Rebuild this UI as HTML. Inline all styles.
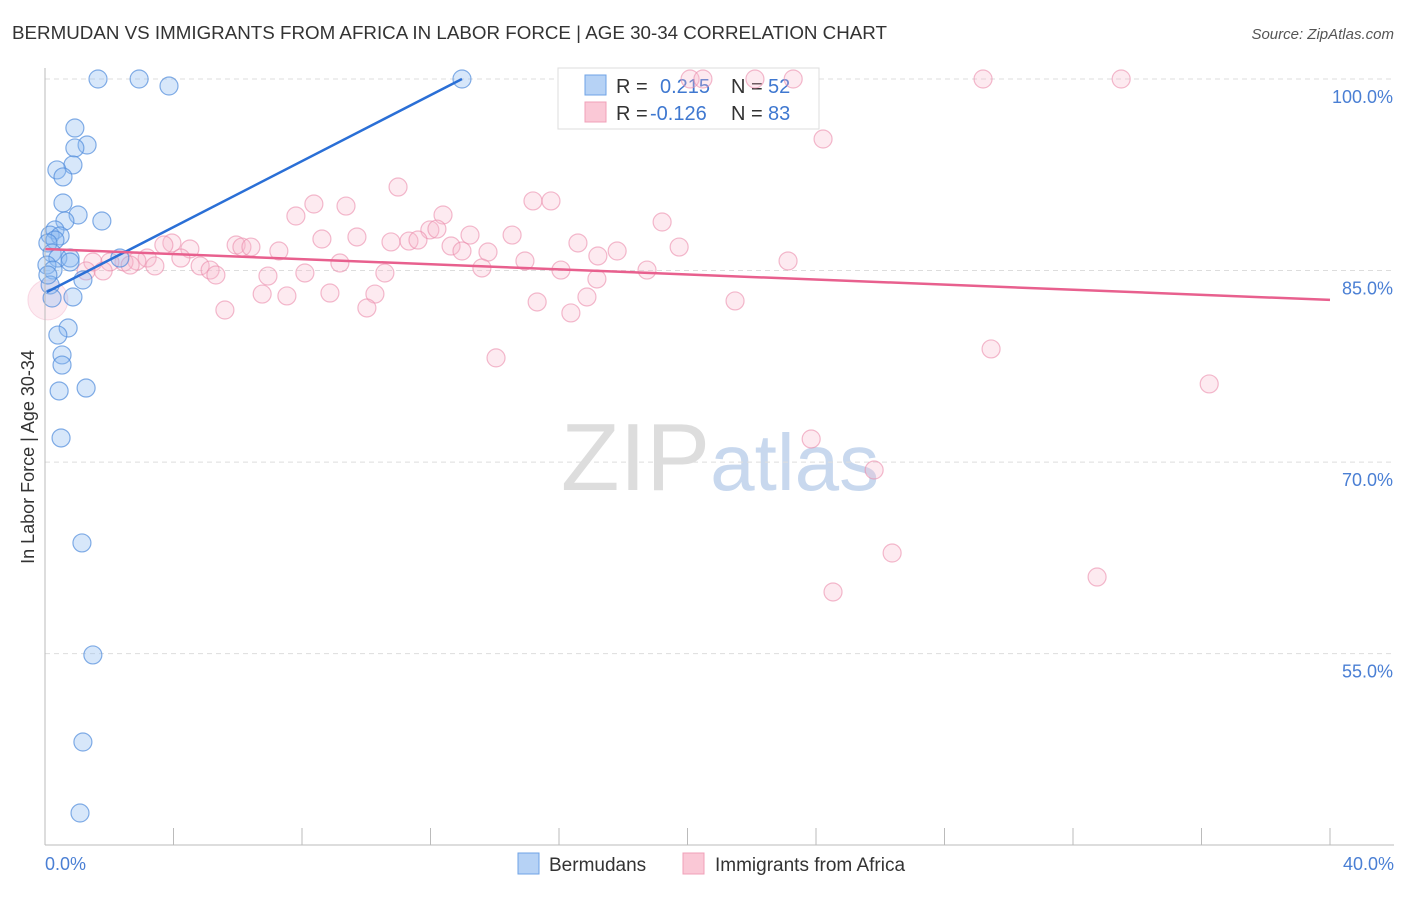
<!DOCTYPE html>
<html><head><meta charset="utf-8"><style>
body{margin:0;background:#fff;font-family:"Liberation Sans",sans-serif;}
svg text{font-family:"Liberation Sans",sans-serif;}
</style></head><body>
<svg id="chart" width="1406" height="892" xmlns="http://www.w3.org/2000/svg">
<text x="12" y="39" font-size="18" fill="#333" textLength="875" lengthAdjust="spacingAndGlyphs">BERMUDAN VS IMMIGRANTS FROM AFRICA IN LABOR FORCE | AGE 30-34 CORRELATION CHART</text>
<text x="1394" y="39" font-size="15" fill="#555" text-anchor="end" font-style="italic">Source: ZipAtlas.com</text>
<text x="720" y="490" font-size="96" fill="#ddd" text-anchor="middle" font-family="Liberation Serif,serif">ZIP<tspan fill="#c8d8ee" font-family="Liberation Sans,sans-serif" font-size="80">atlas</tspan></text>
<g id="grid"></g>
<g>
<rect x="558" y="68" width="261" height="61" fill="#fff" stroke="#ddd"/>
<rect x="585" y="75" width="21" height="20" fill="#b6d2f5" stroke="#6fa3e6"/>
<rect x="585" y="102" width="21" height="20" fill="#fac8d6" stroke="#f0a0b8"/>
<text x="616" y="93" font-size="20" fill="#333">R = </text><text x="660" y="93" font-size="20" fill="#3f78d0">0.215</text>
<text x="731" y="93" font-size="20" fill="#333">N = </text><text x="768" y="93" font-size="20" fill="#3f78d0">52</text>
<text x="616" y="120" font-size="20" fill="#333">R = </text><text x="650" y="120" font-size="20" fill="#3f78d0">-0.126</text>
<text x="731" y="120" font-size="20" fill="#333">N = </text><text x="768" y="120" font-size="20" fill="#3f78d0">83</text>
</g>
<g id="pts"></g><g id="lines"></g>
<line x1="45" y1="68" x2="45" y2="845" stroke="#bbb"/>
<line x1="45" y1="845" x2="1394" y2="845" stroke="#bbb"/>
<text transform="translate(34,457) rotate(-90)" font-size="18" fill="#333" text-anchor="middle">In Labor Force | Age 30-34</text>
<text x="45" y="870" font-size="18" fill="#4a7fd4">0.0%</text>
<text x="1394" y="870" font-size="18" fill="#4a7fd4" text-anchor="end">40.0%</text>
<g>
<rect x="518" y="853" width="21" height="21" fill="#b6d2f5" stroke="#6fa3e6"/>
<text x="549" y="871" font-size="19" fill="#333">Bermudans</text>
<rect x="683" y="853" width="21" height="21" fill="#fac8d6" stroke="#f0a0b8"/>
<text x="715" y="871" font-size="19" fill="#333">Immigrants from Africa</text>
</g>
</svg>
<script>
const yTicks=[100,85,70,55];
const yTickLabels=["100.0%","85.0%","70.0%","55.0%"];
const xTicks=[0,4,8,12,16,20,24,28,32,36,40];
const blueX=[1.65,2.93,3.86,12.98,0.93,1.31,0.93,0.87,0.37,0.56,0.56,1.03,1.77,0.62,0.31,0.16,0.47,0.31,0.09,0.22,0.40,0.78,0.06,0.25,1.18,0.16,0.87,0.22,0.72,0.40,0.53,0.53,0.44,1.28,0.50,1.15,1.49,1.18,1.09,2.33,0.78,0.09];
const blueY=[100,100,99.45,100,96.16,94.83,94.6,93.27,92.88,92.33,90.29,89.35,88.88,88.88,88.18,87.78,87.71,87.39,87.16,86.37,85.98,85.98,85.43,85.04,84.26,83.87,82.93,82.85,80.5,79.95,78.39,77.6,75.57,75.8,71.89,63.67,54.9,48.08,42.52,85.98,85.67,84.65];
const pinkX=[20.08,20.48,22.10,23.29,29.2,33.5,24.22,10.99,15.19,15.75,8.37,9.37,7.81,12.39,19.21,11.98,12.2,13.23,8.62,9.71,10.77,11.33,11.61,14.54,16.59,19.74,3.95,3.70,4.51,5.95,6.13,6.41,7.28,12.64,12.98,13.79,17.81,17.21,3.18,2.86,1.49,2.46,4.23,2.02,9.18,14.94,23.13,2.65,3.42,4.83,5.14,1.28,1.81,13.6,16.06,18.74,8.09,10.58,5.32,6.94,17.18,6.76,7.53,8.87,10.27,16.87,5.6,10.02,15.32,16.37,21.48,14.04,29.45,36.24,23.85,25.81,26.37,32.75,24.53];
const pinkY=[100,100,100,100,100,100,95.3,91.54,90.45,90.45,90.21,90.05,89.27,89.35,88.8,88.18,88.25,87.78,87.47,87.63,87.24,87.31,87.39,87.78,87.16,86.84,87.16,87.0,86.69,87.0,86.84,86.84,86.53,86.92,86.53,86.45,86.53,86.14,85.98,85.75,85.67,85.67,85.98,85.67,85.59,85.75,85.75,85.43,85.36,85.36,85.04,84.97,84.97,85.2,85.04,85.04,84.81,84.81,84.65,84.57,84.34,83.16,83.01,83.24,83.16,82.93,81.91,82.07,82.54,81.68,82.62,78.16,78.86,76.12,71.81,69.38,62.88,61.0,59.83];
const blueTrend=[[0.06,83.32],[12.98,100]];
const pinkTrend=[[0,86.69],[40,82.7]];
const NS="http://www.w3.org/2000/svg";
const xs=v=>45+v/40*1285;
const ys=v=>79+(100-v)*12.77;
function mk(tag,attrs,parent){const e=document.createElementNS(NS,tag);for(const k in attrs)e.setAttribute(k,attrs[k]);parent.appendChild(e);return e;}
const grid=document.getElementById('grid'),pts=document.getElementById('pts'),lines=document.getElementById('lines');
yTicks.forEach((t,i)=>{
  const l=mk('line',{x1:45,x2:1394,y1:ys(t),y2:ys(t),stroke:'#ddd','stroke-dasharray':'5,4'},grid);
  
  
  const tx=mk('text',{x:1393,y:ys(t)+24,'font-size':18,fill:'#4a7fd4','text-anchor':'end'},grid);
  tx.textContent=yTickLabels[i];
  
  
});
xTicks.forEach(t=>{
  const l=mk('line',{x1:xs(t),x2:xs(t),y1:828,y2:845,stroke:'#bbb'},grid);
  
  
});
const big=mk('circle',{cx:xs(0.09),cy:ys(82.7),r:20,fill:'rgba(248,190,210,0.3)',stroke:'rgba(240,170,195,0.4)'},pts);


pinkX.forEach((x,i)=>{
  const c=mk('circle',{cx:xs(x),cy:ys(pinkY[i]),r:9,fill:'rgba(248,185,205,0.3)',stroke:'rgba(235,140,172,0.6)','stroke-width':1.2},pts);
  
  
});
blueX.forEach((x,i)=>{
  const c=mk('circle',{cx:xs(x),cy:ys(blueY[i]),r:9,fill:'rgba(140,185,240,0.35)',stroke:'rgba(80,140,220,0.7)','stroke-width':1.2},pts);
  
  
});
const bl=mk('line',{x1:xs(blueTrend[0][0]),y1:ys(blueTrend[0][1]),x2:xs(blueTrend[1][0]),y2:ys(blueTrend[1][1]),stroke:'#2a6fd6','stroke-width':2.5},lines);


const pl=mk('line',{x1:xs(pinkTrend[0][0]),y1:ys(pinkTrend[0][1]),x2:xs(pinkTrend[1][0]),y2:ys(pinkTrend[1][1]),stroke:'#e8608e','stroke-width':2.5},lines);


</script>
</body></html>
